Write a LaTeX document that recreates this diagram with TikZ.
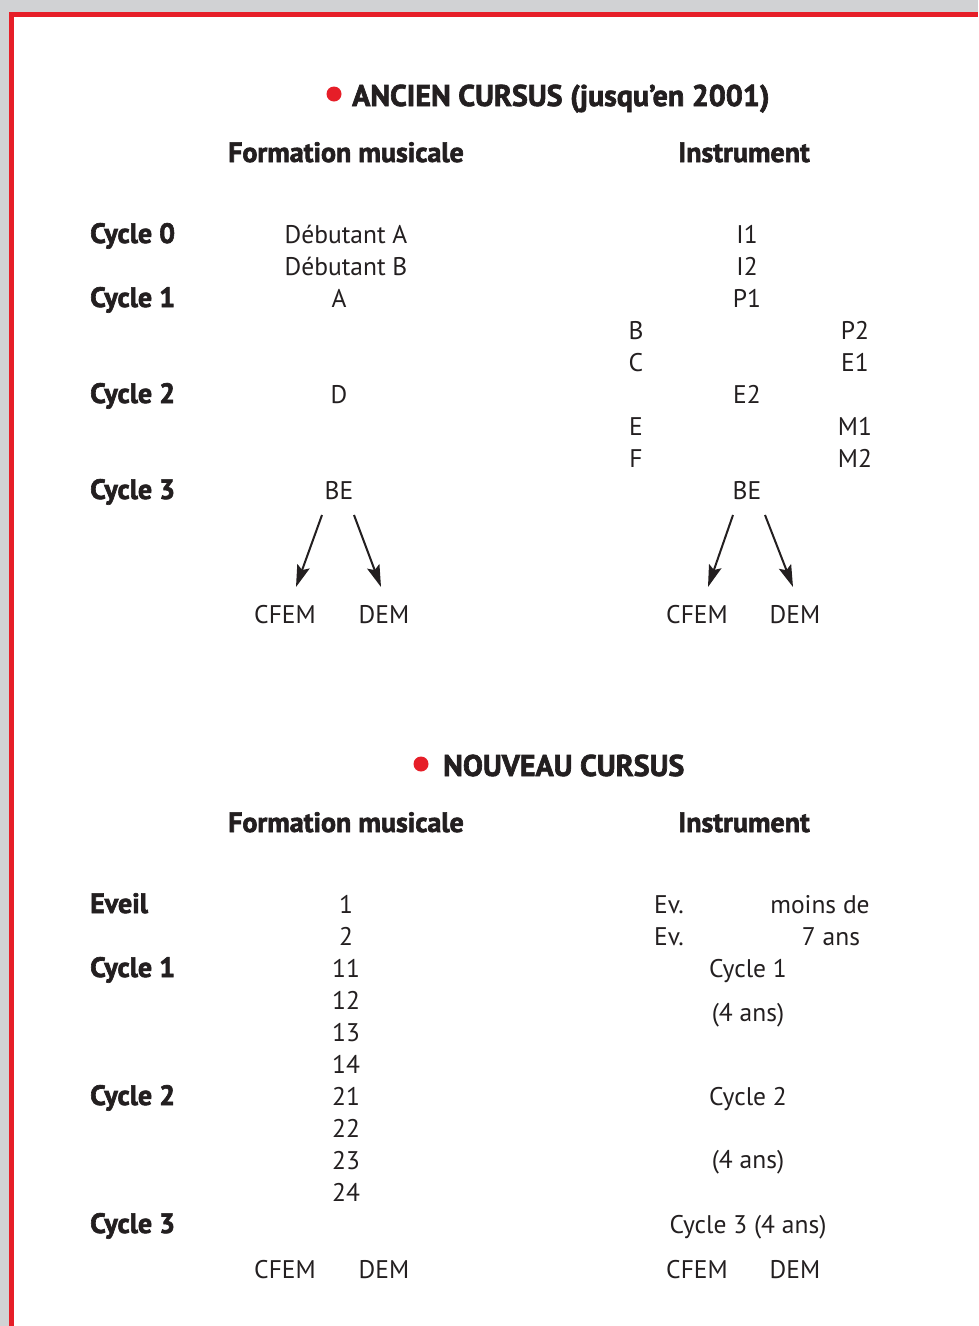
\documentclass[tikz,border=0pt]{standalone}
\usepackage{fontspec}
\setmainfont{PT Sans}[BoldFeatures={FakeBold=2.2}]
\usetikzlibrary{arrows.meta}
\definecolor{pagegray}{RGB}{209,210,212}
\definecolor{frame}{RGB}{230,30,40}
\definecolor{ink}{RGB}{35,31,32}
\tikzset{
  txt/.style={anchor=base, text=ink, inner sep=0pt, font=\fontsize{25.5}{30}\selectfont},
  lbl/.style={anchor=base west, text=ink, inner sep=0pt, font=\fontsize{28}{30}\selectfont\bfseries},
  hdr/.style={anchor=base, text=ink, inner sep=0pt, font=\fontsize{28}{30}\selectfont\bfseries},
  ttl/.style={anchor=base west, text=ink, inner sep=0pt, font=\fontsize{30}{32}\selectfont\bfseries},
  dot/.style={circle, fill=frame, inner sep=0pt, minimum size=15pt},
  arr/.style={draw=ink, line width=2pt, -{Stealth[length=22pt,width=13pt,inset=4pt]}}
}
\begin{document}
\begin{tikzpicture}[x=1pt,y=-1pt]
\useasboundingbox (0,0) rectangle (978,1326);
\fill[pagegray] (0,0) rectangle (978,1326);
\fill[white] (12,15) rectangle (978,1326);
\fill[frame] (9,12) rectangle (978,17);
\fill[frame] (9,12) rectangle (14,1326);

% ---- ANCIEN CURSUS ----
\node[dot] (d1) at (334,94) {};
\node[ttl] (t1) at (352,106) {ANCIEN CURSUS (jusqu’en 2001)};
\node[hdr] (fm1) at (346,162) {Formation musicale};
\node[hdr] (in1) at (744,162) {Instrument};

\node[lbl] (c0) at (90,243) {Cycle 0};
\node[lbl] (c1) at (90,307) {Cycle 1};
\node[lbl] (c2) at (90,403) {Cycle 2};
\node[lbl] (c3) at (90,499) {Cycle 3};

\node[txt] (da) at (346,243) {Débutant A};
\node[txt] (db) at (346,275) {Débutant B};
\node[txt] (a) at (339,307) {A};
\node[txt] (d) at (339,403) {D};
\node[txt] (be1) at (339,499) {BE};

\node[txt] (i1) at (747,243) {I1};
\node[txt] (i2) at (747,275) {I2};
\node[txt] (p1) at (747,307) {P1};
\node[txt] (b) at (636,339) {B};
\node[txt] (p2) at (855,339) {P2};
\node[txt] (c) at (636,371) {C};
\node[txt] (e1) at (855,371) {E1};
\node[txt] (e2) at (747,403) {E2};
\node[txt] (e) at (636,435) {E};
\node[txt] (m1) at (855,435) {M1};
\node[txt] (f) at (636,467) {F};
\node[txt] (m2) at (855,467) {M2};
\node[txt] (be2) at (747,499) {BE};

\node[txt] (cf1) at (285,623) {CFEM};
\node[txt] (de1) at (384,623) {DEM};
\node[txt] (cf2) at (697,623) {CFEM};
\node[txt] (de2) at (795,623) {DEM};

\coordinate (s1) at (322,515);
\coordinate (s2) at (354,515);
\coordinate (s3) at (733,515);
\coordinate (s4) at (765,515);
\coordinate (e1a) at (296,587);
\coordinate (e2a) at (381,587);
\coordinate (e3a) at (708,587);
\coordinate (e4a) at (793,587);
\draw[arr] (s1) -- (e1a);
\draw[arr] (s2) -- (e2a);
\draw[arr] (s3) -- (e3a);
\draw[arr] (s4) -- (e4a);

% ---- NOUVEAU CURSUS ----
\node[dot] (d2) at (421,764) {};
\node[ttl] (t2) at (443,776) {NOUVEAU CURSUS};
\node[hdr] (fm2) at (346,832) {Formation musicale};
\node[hdr] (in2) at (744,832) {Instrument};

\node[lbl] (ev) at (90,913) {Eveil};
\node[lbl] (n1) at (90,977) {Cycle 1};
\node[lbl] (n2) at (90,1105) {Cycle 2};
\node[lbl] (n3) at (90,1233) {Cycle 3};

\node[txt] (k1) at (346,913) {1};
\node[txt] (k2) at (346,945) {2};
\node[txt] (k11) at (346,977) {11};
\node[txt] (k12) at (346,1009) {12};
\node[txt] (k13) at (346,1041) {13};
\node[txt] (k14) at (346,1073) {14};
\node[txt] (k21) at (346,1105) {21};
\node[txt] (k22) at (346,1137) {22};
\node[txt] (k23) at (346,1169) {23};
\node[txt] (k24) at (346,1201) {24};

\node[txt, anchor=base west] (ev1) at (654,913) {Ev.};
\node[txt, anchor=base west] (ev2) at (654,945) {Ev.};
\node[txt] (moins) at (820,913) {moins de};
\node[txt] (sept) at (831,945) {7 ans};
\node[txt] (ic1) at (748,977) {Cycle 1};
\node[txt] (ia1) at (748,1021) {(4 ans)};
\node[txt] (ic2) at (748,1105) {Cycle 2};
\node[txt] (ia2) at (748,1168) {(4 ans)};
\node[txt] (ic3) at (748,1233) {Cycle 3 (4 ans)};

\node[txt] (cf3) at (285,1278) {CFEM};
\node[txt] (de3) at (384,1278) {DEM};
\node[txt] (cf4) at (697,1278) {CFEM};
\node[txt] (de4) at (795,1278) {DEM};
\end{tikzpicture}
\end{document}
